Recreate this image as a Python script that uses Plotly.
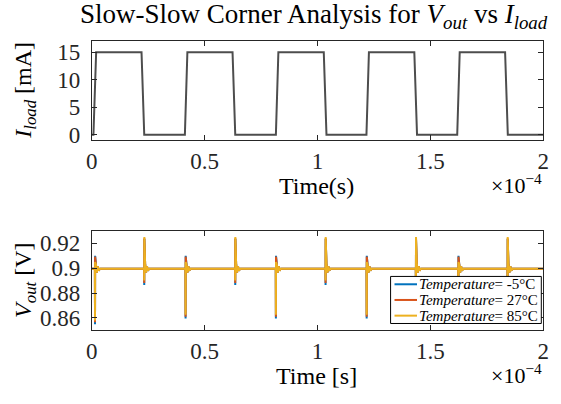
import plotly.graph_objects as go

# ---- load current pulse train (corner points, time in microseconds) ----
i_time_us = [0.0, 0.8, 2.0, 22.1, 23.3, 41.3, 42.4, 62.4, 63.6, 81.6, 82.7,
             102.8, 104.0, 121.7, 122.8, 142.9, 144.1, 161.9, 163.0, 183.1,
             184.3, 200.0]
i_load_ma = [0, 0, 15, 15, 0, 0, 15, 15, 0, 0, 15, 15, 0, 0, 15, 15, 0, 0,
             15, 15, 0, 0]

# ---- output voltage transients at each load edge (time in microseconds) ----
edge_time_us = [1.5, 23.3, 41.6, 63.6, 81.6, 103.6, 121.8, 143.6, 162.4, 184.2]

temperatures = ["-5", "27", "85"]
v_base = [0.8995, 0.8995, 0.8995]
v_peak = [
    [0.9100, 0.9235, 0.9100, 0.9235, 0.9100, 0.9235, 0.9100, 0.9235, 0.9100, 0.9235],
    [0.9092, 0.9240, 0.9092, 0.9240, 0.9092, 0.9240, 0.9092, 0.9240, 0.9092, 0.9240],
    [0.9050, 0.9250, 0.9050, 0.9250, 0.9050, 0.9250, 0.9050, 0.9250, 0.9050, 0.9250],
]
v_dip = [
    [0.8550, 0.8865, 0.8595, 0.8865, 0.8595, 0.8865, 0.8595, 0.8865, 0.8595, 0.8865],
    [0.8565, 0.8880, 0.8610, 0.8880, 0.8610, 0.8880, 0.8610, 0.8880, 0.8610, 0.8880],
    [0.8580, 0.8900, 0.8625, 0.8900, 0.8625, 0.8900, 0.8625, 0.8900, 0.8625, 0.8900],
]
# small ringing after each spike (offset from baseline, V)
ring_offsets = [0.0035, -0.003, 0.002, -0.0015]

colors = ["#0072BD", "#D95319", "#EDB120"]

x_ticks = [0, 0.5e-4, 1e-4, 1.5e-4, 2e-4]
x_ticktext = ["0", "0.5", "1", "1.5", "2"]
i_ticks = [0, 5, 10, 15]
v_ticks = [0.86, 0.88, 0.90, 0.92]
v_ticktext = ["0.86", "0.88", "0.9", "0.92"]


def transient(base, peaks, dips):
    t, v = [0.0], [base]
    for te, pk, dp in zip(edge_time_us, peaks, dips):
        t += [te - 0.05, te, te + 0.05]
        v += [base, dp, pk]
        for k, off in enumerate(ring_offsets):
            t.append(te + 0.4 * (k + 1))
            v.append(base + off)
        t.append(te + 2.2)
        v.append(base)
    t.append(200.0)
    v.append(base)
    return [x * 1e-6 for x in t], v


SERIF = "Liberation Serif, Times New Roman, serif"
INK = "#262626"
W, H = 561, 404
PAD = "\u00a0"  # gap between y tick labels and the axis


def px(x):
    return x / W


def py(y):
    return 1 - y / H


fig = go.Figure()

fig.add_trace(go.Scatter(
    x=[x * 1e-6 for x in i_time_us], y=i_load_ma, mode="lines",
    line=dict(color="#4d4d4d", width=2), showlegend=False,
    xaxis="x", yaxis="y"))

legend_labels = []
for name, base, pk, dp, col in zip(temperatures, v_base, v_peak, v_dip, colors):
    tx, vy = transient(base, pk, dp)
    label = "<i>Temperature</i>= " + name + "°C"
    legend_labels.append(label)
    fig.add_trace(go.Scatter(
        x=tx, y=vy, mode="lines", line=dict(color=col, width=2),
        name=label, showlegend=False, xaxis="x2", yaxis="y2"))

axis_common = dict(
    showline=True, linecolor=INK, linewidth=1, mirror="allticks",
    ticks="inside", ticklen=5, tickwidth=1, tickcolor=INK,
    showgrid=False, zeroline=False,
    tickfont=dict(family=SERIF, size=23, color=INK),
)

x_dom = [px(87.5), px(549)]

fig.update_layout(
    width=W, height=H,
    margin=dict(l=0, r=0, t=0, b=0),
    font=dict(family=SERIF, color="#000000"),
    paper_bgcolor="white", plot_bgcolor="white",
    xaxis=dict(domain=x_dom, anchor="y", range=[0, 2e-4],
               tickvals=x_ticks, ticktext=x_ticktext, **axis_common),
    yaxis=dict(domain=[py(142), py(41)], anchor="x",
               range=[-1, 17], tickvals=i_ticks,
               ticktext=[str(v) + PAD for v in i_ticks], **axis_common),
    xaxis2=dict(domain=x_dom, anchor="y2", range=[0, 2e-4],
                tickvals=x_ticks, ticktext=x_ticktext, **axis_common),
    yaxis2=dict(domain=[py(336), py(234.5)], anchor="x2",
                range=[0.85, 0.93], tickvals=v_ticks,
                ticktext=[t + PAD for t in v_ticktext], **axis_common),
    showlegend=False,
)

# legend box for the voltage panel (drawn above the traces)
box_l, box_r, box_t, box_b = 393, 547, 281, 329
fig.add_shape(type="rect", xref="paper", yref="paper", layer="above",
              x0=px(box_l), x1=px(box_r), y0=py(box_b), y1=py(box_t),
              fillcolor="white", line=dict(color="#000000", width=1))
row_h = (box_b - box_t) / len(legend_labels)
for k, (label, col) in enumerate(zip(legend_labels, colors)):
    yc = box_t + row_h * (k + 0.5)
    fig.add_shape(type="line", xref="paper", yref="paper", layer="above",
                  x0=px(397), x1=px(420), y0=py(yc), y1=py(yc),
                  line=dict(color=col, width=2))
    fig.add_annotation(xref="paper", yref="paper", showarrow=False,
                       x=px(420), y=py(yc), xanchor="left", yanchor="middle",
                       text=label, font=dict(family=SERIF, size=15, color="#000000"))

# title and axis labels
ann = [
    dict(text="Slow-Slow Corner Analysis for <i>V</i><sub><i>out</i></sub> vs "
              "<i>I</i><sub><i>load</i></sub>",
         x=px(315), y=py(15), font=dict(size=27)),
    dict(text="Time(s)", x=px(317), y=py(189), font=dict(size=24)),
    dict(text="Time [s]", x=px(317), y=py(383), font=dict(size=24)),
    dict(text="×10<sup>−4</sup>", x=px(550), y=py(187), font=dict(size=22),
         xanchor="right"),
    dict(text="×10<sup>−4</sup>", x=px(550), y=py(381), font=dict(size=22),
         xanchor="right"),
    dict(text="<i>I</i><sub><i>load</i></sub> [mA]", x=px(20), y=py(91),
         textangle=-90, font=dict(size=24)),
    dict(text="<i>V</i><sub><i>out</i></sub> [V]", x=px(20), y=py(285),
         textangle=-90, font=dict(size=24)),
]
for a in ann:
    f = dict(family=SERIF, color="#000000")
    f.update(a.pop("font"))
    xa = a.pop("xanchor", "center")
    fig.add_annotation(xref="paper", yref="paper", showarrow=False,
                       xanchor=xa, yanchor="middle", font=f, **a)

fig.write_html("out.html")
